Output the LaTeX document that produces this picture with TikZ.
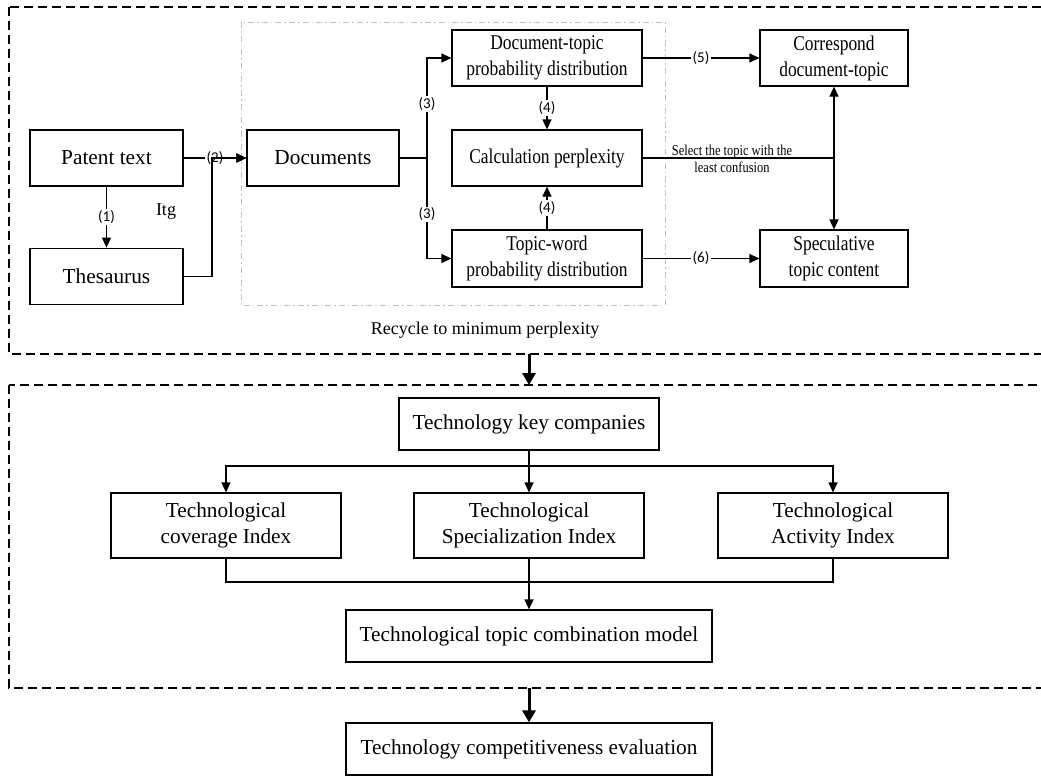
\documentclass[tikz,border=0pt]{standalone}
\usepackage{fontspec}
\setmainfont{Liberation Serif}
\newfontfamily\numfont{Carlito}
\newfontfamily\narrowfont[FakeStretch=0.83]{Liberation Serif}
\usetikzlibrary{arrows.meta,positioning}

\begin{document}
\begin{tikzpicture}[x=0.5pt,y=-0.5pt,line width=0.6pt,>={Triangle[length=5pt,width=4.5pt]},
	box/.style={draw,inner sep=0pt,align=center,font=\fontsize{10.65}{13}\selectfont},
	smallbox/.style={box,font=\narrowfont\fontsize{10.5}{13}\selectfont},
	num/.style={fill=white,inner sep=0.6pt,font=\numfont\fontsize{7.5}{8}\selectfont},
	area/.style={dash pattern=on 4.5pt off 2.5pt},
	bigarrow/.style={line width=1.5pt,-{Triangle[length=6pt,width=6.5pt]}}]
			\path[use as bounding box,clip] (0,0) rectangle (1041,776);
			% upper part: topic model
			\draw[area] (9,7) rectangle (1060,354);
			\draw[gray!50,line width=0.5pt,dash pattern=on 3pt off 1.5pt on 0.8pt off 1.5pt] (241,22) rectangle (665,305);
			\node[box,minimum width=76.5pt,minimum height=28pt] (patent) at (106.5,158) {Patent text};
			\node[box,minimum width=76.5pt,minimum height=28pt,below=30.5pt of patent] (thes) {Thesaurus};
			\node[box,minimum width=76pt,minimum height=28pt] (docs) at (323,158) {Documents};
			\node[smallbox,minimum width=95pt,minimum height=28pt] (dtp) at (547,58) {Document-topic\\probability distribution};
			\node[smallbox,minimum width=95pt,minimum height=28pt] (calc) at (547,158) {Calculation perplexity};
			\node[smallbox,minimum width=95pt,minimum height=28.5pt] (twp) at (547,258.5) {Topic-word\\probability distribution};
			\node[smallbox,minimum width=74pt,minimum height=28pt] (corr) at (834,58) {Correspond\\document-topic};
			\node[smallbox,minimum width=74pt,minimum height=28.5pt] (spec) at (834,258.5) {Speculative\\topic content};
			\node[font=\fontsize{9}{11}\selectfont] (itg) at (166,212) {Itg};
			\node[font=\fontsize{9}{11}\selectfont] (recycle) at (485,330) {Recycle to minimum perplexity};
			\node[font=\narrowfont\fontsize{7.5}{8.5}\selectfont,align=center,inner sep=0pt] (select) at (732,158.5) {Select the topic with the\\least confusion};

			\coordinate (join) at (212,158);
			\coordinate (fork) at (427,158);
			\draw[->] (patent) -- node[num] {(1)} (thes);
			\draw[->] (patent) -- node[num] {(2)} (docs);
			\draw[->] (thes.east) -| (join) -- (docs.west);
			\draw (docs) -- (fork);
			\draw[->] (fork) |- node[num,pos=0.27] {(3)} (dtp.west);
			\draw[->] (fork) |- node[num,pos=0.28] {(3)} (twp.west);
			\draw[->] (dtp) -- node[num] {(4)} (calc);
			\draw[->] (twp) -- node[num] {(4)} (calc);
			\draw[->] (dtp) -- node[num] {(5)} (corr);
			\draw[->] (twp) -- node[num] {(6)} (spec);
			\draw[<->] (corr) -- (spec);
			\draw (calc) -- (calc -| corr);

			% lower part: evaluation
			\draw[area] (9,385) rectangle (1060,688);
			\node[box,minimum width=130pt,minimum height=26pt] (keyco) at (529,424) {Technology key companies};
			\node[box,minimum width=115pt,minimum height=32.5pt] (cov) at (226,525.5) {Technological\\coverage Index};
			\node[box,minimum width=115pt,minimum height=32.5pt] (spz) at (529,525.5) {Technological\\Specialization Index};
			\node[box,minimum width=115pt,minimum height=32.5pt] (act) at (833,525.5) {Technological\\Activity Index};
			\node[box,minimum width=183pt,minimum height=26pt] (comb) at (529,636) {Technological topic combination model};
			\node[box,minimum width=183pt,minimum height=26pt] (eval) at (529,749) {Technology competitiveness evaluation};

			\coordinate (split) at (529,466);
			\coordinate (merge) at (529,582);
			\draw (keyco) -- (split);
			\foreach \b in {cov,spz,act} \draw[->] (split) -| (\b.north);
			\foreach \b in {cov,act} \draw (\b.south) |- (merge);
			\draw[->] (spz) -- (comb);

			\coordinate (upperbot) at (529,354);
			\coordinate (lowertop) at (529,385);
			\coordinate (lowerbot) at (529,688);
			\draw[bigarrow] (upperbot) -- (lowertop);
			\draw[bigarrow] (lowerbot) -- (eval);
		    \end{tikzpicture}
\end{document}
